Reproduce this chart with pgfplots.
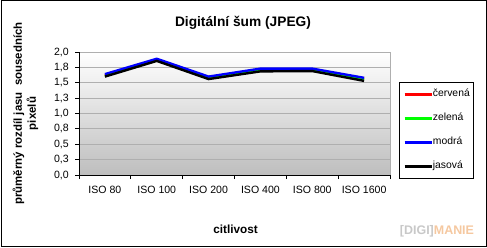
\documentclass[border=0pt]{standalone}
\usepackage{pgfplots}
\pgfplotsset{compat=1.18}
\usepackage{fontspec}
\setmainfont{Liberation Sans}
\definecolor{gridc}{RGB}{175,175,175}
\definecolor{bgbot}{RGB}{190,190,190}
\definecolor{wmgray}{RGB}{200,200,200}
\definecolor{wmorange}{RGB}{245,200,160}
\begin{document}
\begin{tikzpicture}[x=1bp,y=1bp]
\useasboundingbox (0,0) rectangle (487,247);
\draw[black, line width=1bp] (1,1) rectangle (486,246);
\node[font=\bfseries\fontsize{13.8}{15}\selectfont] at (243,224) {Digitální šum (JPEG)};
\node[font=\bfseries\fontsize{11.8}{14}\selectfont] at (235.5,18) {citlivost};
\node[font=\bfseries\fontsize{11.5}{14}\selectfont, rotate=90, align=center] at (25.5,133.5) {průměrný rozdíl jasu\ \ sousedních\\pixelů};
\node[font=\bfseries\fontsize{12.5}{14}\selectfont] at (437,16) {\textcolor{wmgray}{[DIGI]}\textcolor{wmorange}{MANIE}};
\begin{axis}[
  at={(79bp,72bp)}, anchor=south west,
  scale only axis, width=311bp, height=123bp,
  xmin=-0.5, xmax=5.5, ymin=0, ymax=2,
  axis x line*=bottom, axis y line*=left,
  axis line style={black, line width=0.8bp},
  xtick={0,...,5},
  xticklabels={ISO 80,ISO 100,ISO 200,ISO 400,ISO 800,ISO 1600},
  minor xtick={-0.5,0.5,...,5.5},
  major x tick style={draw=none},
  minor x tick style={black, line width=0.8bp},
  ytick={0,0.25,...,2},
  yticklabels={{0,0},{0,3},{0,5},{0,8},{1,0},{1,3},{1,5},{1,8},{2,0}},
  y tick style={black, line width=0.8bp},
  tick align=outside,
  major tick length=4bp, minor tick length=4bp,
  ymajorgrids, grid style={gridc, line width=0.8bp},
  ticklabel style={font=\fontsize{10.6}{12}\selectfont},
  yticklabel style={inner sep=0pt, xshift=-6bp},
  xticklabel style={inner sep=0pt, yshift=-7bp},
  /pgf/number format/assume math mode=true,
  axis background/.style={top color=white, bottom color=bgbot},
  legend style={at={(1.029,0.756)}, anchor=north west, draw=black, line width=0.8bp,
    font=\fontsize{10.4}{12}\selectfont, inner xsep=4bp, inner ysep=7bp, row sep=14bp,
    nodes={inner sep=0pt, text height=7.5bp, text depth=2.5bp}},
  legend cell align=left,
  legend image code/.code={\draw[#1, line width=2.5bp] (0bp,0bp) -- (27bp,0bp);},
  after end axis/.code={\draw[gridc, line width=0.8bp] (rel axis cs:1,0) -- (rel axis cs:1,1);},
  every axis plot/.append style={line width=2.4bp, mark=none},
]
\addplot[red] coordinates {(0,1.62) (1,1.88) (2,1.59) (3,1.71) (4,1.72) (5,1.57)};
\addlegendentry{červená}
\addplot[green] coordinates {(0,1.61) (1,1.87) (2,1.575) (3,1.70) (4,1.70) (5,1.555)};
\addlegendentry{zelená}
\addplot[blue] coordinates {(0,1.64) (1,1.89) (2,1.60) (3,1.73) (4,1.73) (5,1.58)};
\addlegendentry{modrá}
\addplot[black] coordinates {(0,1.60) (1,1.855) (2,1.56) (3,1.685) (4,1.69) (5,1.53)};
\addlegendentry{jasová}
\end{axis}
\end{tikzpicture}
\end{document}
